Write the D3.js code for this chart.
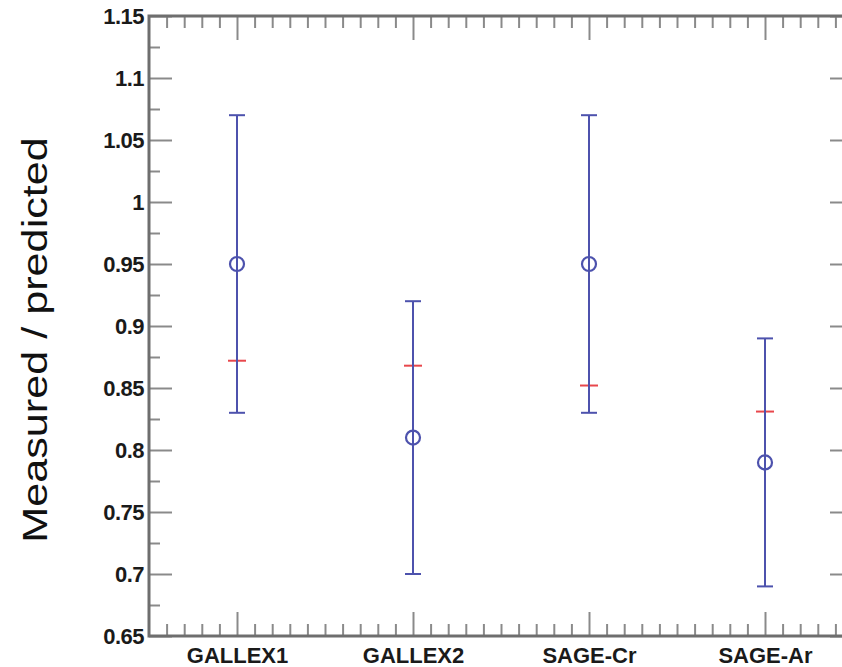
<!DOCTYPE html>
<html>
<head>
<meta charset="utf-8">
<script src="https://cdn.jsdelivr.net/npm/d3@7"></script>
<style>
  body { margin: 0; background: #fff; overflow: hidden; }
  svg { display: block; }
  svg text { font-family: "Liberation Sans", Arial, Helvetica, sans-serif; }
  .tick text { font-weight: bold; font-size: 22px; fill: #1a1a1a; }
</style>
</head>
<body>
<script>
const categories = ['GALLEX1', 'GALLEX2', 'SAGE-Cr', 'SAGE-Ar'];
const measured = [0.95, 0.81, 0.95, 0.79];
const errLow = [0.83, 0.70, 0.83, 0.69];
const errHigh = [1.07, 0.92, 1.07, 0.89];
const predicted = [0.872, 0.868, 0.852, 0.831];
const yTicks = [0.65, 0.7, 0.75, 0.8, 0.85, 0.9, 0.95, 1, 1.05, 1.1, 1.15];

const width = 842;
const height = 667;
const plot = { left: 149, right: 853, top: 16, bottom: 636 };

const x = d3.scaleLinear()
  .domain([0.5, categories.length + 0.5])
  .range([plot.left, plot.right]);

const y = d3.scaleLinear()
  .domain([0.65, 1.15])
  .range([plot.bottom, plot.top]);

const xMajor = categories.map((d, i) => i + 1);
const xMinor = d3.range(6, 45).map(d => d / 10).filter(d => !Number.isInteger(d));
const yMinor = yTicks.slice(0, -1).map(d => d + 0.025);

const svg = d3.select('body').append('svg')
  .attr('width', width)
  .attr('height', height);

const tickColor = '#8a8a8a';

function drawTicks(axis, transform) {
  const g = svg.append('g')
    .attr('transform', transform)
    .call(axis);
  g.select('.domain').remove();
  g.selectAll('.tick line').attr('stroke', tickColor).attr('stroke-width', 2);
  return g;
}

// bottom edge, ticks point up
drawTicks(d3.axisTop(x).tickValues(xMinor).tickSize(12).tickFormat(''), `translate(0,${plot.bottom})`);
drawTicks(d3.axisTop(x).tickValues(xMajor).tickSize(24).tickFormat(''), `translate(0,${plot.bottom})`);
// top edge, ticks point down
drawTicks(d3.axisBottom(x).tickValues(xMinor).tickSize(12).tickFormat(''), `translate(0,${plot.top})`);
drawTicks(d3.axisBottom(x).tickValues(xMajor).tickSize(24).tickFormat(''), `translate(0,${plot.top})`);
// left edge, ticks point right
drawTicks(d3.axisRight(y).tickValues(yMinor).tickSize(11).tickFormat(''), `translate(${plot.left},0)`);
drawTicks(d3.axisRight(y).tickValues(yTicks).tickSize(23).tickFormat(''), `translate(${plot.left},0)`);
// right edge, ticks point left
drawTicks(d3.axisLeft(y).tickValues(yMinor).tickSize(11).tickFormat(''), `translate(${plot.right},0)`);
drawTicks(d3.axisLeft(y).tickValues(yTicks).tickSize(23).tickFormat(''), `translate(${plot.right},0)`);

// labels
const yLab = drawTicks(d3.axisLeft(y).tickValues(yTicks).tickSize(0).tickPadding(5)
  .tickFormat(d3.format('~g')), `translate(${plot.left},0)`);
yLab.selectAll('.tick text').attr('dy', '0.36em').attr('letter-spacing', '-0.5px');

drawTicks(d3.axisBottom(x).tickValues(xMajor).tickSize(0).tickPadding(11)
  .tickFormat(d => categories[d - 1]), `translate(0,${plot.bottom})`);

// frame
svg.append('rect')
  .attr('x', plot.left)
  .attr('y', plot.top)
  .attr('width', plot.right - plot.left)
  .attr('height', plot.bottom - plot.top)
  .attr('fill', 'none')
  .attr('stroke', '#6e6e6e')
  .attr('stroke-width', 3);

svg.append('text')
  .attr('transform', `translate(47,340) rotate(-90) scale(1.2,1)`)
  .attr('text-anchor', 'middle')
  .style('font-size', '36px')
  .attr('fill', '#111')
  .text('Measured / predicted');

const blue = '#4d52ad';
const red = '#e8474c';
const cap = 8;

const pts = svg.append('g').selectAll('g')
  .data(categories.map((c, i) => ({ c, i, m: measured[i], lo: errLow[i], hi: errHigh[i], p: predicted[i] })))
  .enter().append('g');

// predicted markers
pts.append('line')
  .attr('x1', d => x(d.i + 1) - 9)
  .attr('x2', d => x(d.i + 1) + 9)
  .attr('y1', d => y(d.p))
  .attr('y2', d => y(d.p))
  .attr('stroke', red)
  .attr('stroke-width', 2);
pts.append('line')
  .attr('x1', d => x(d.i + 1))
  .attr('x2', d => x(d.i + 1))
  .attr('y1', d => y(d.p) - 6)
  .attr('y2', d => y(d.p) + 6)
  .attr('stroke', red)
  .attr('stroke-width', 2);

// error bars
pts.append('line')
  .attr('x1', d => x(d.i + 1))
  .attr('x2', d => x(d.i + 1))
  .attr('y1', d => y(d.lo))
  .attr('y2', d => y(d.hi))
  .attr('stroke', blue)
  .attr('stroke-width', 2);
pts.append('line')
  .attr('x1', d => x(d.i + 1) - cap)
  .attr('x2', d => x(d.i + 1) + cap)
  .attr('y1', d => y(d.hi))
  .attr('y2', d => y(d.hi))
  .attr('stroke', blue)
  .attr('stroke-width', 2);
pts.append('line')
  .attr('x1', d => x(d.i + 1) - cap)
  .attr('x2', d => x(d.i + 1) + cap)
  .attr('y1', d => y(d.lo))
  .attr('y2', d => y(d.lo))
  .attr('stroke', blue)
  .attr('stroke-width', 2);
pts.append('circle')
  .attr('cx', d => x(d.i + 1))
  .attr('cy', d => y(d.m))
  .attr('r', 7)
  .attr('fill', 'none')
  .attr('stroke', blue)
  .attr('stroke-width', 2.2);
</script>
</body>
</html>
